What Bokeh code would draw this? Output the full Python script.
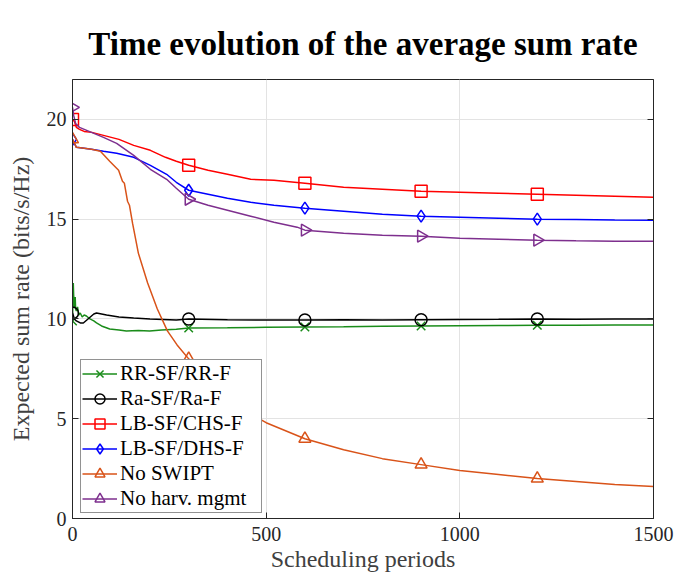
import numpy as np
from bokeh.plotting import figure
from bokeh.models import LinearAxis, Legend, LegendItem, Range1d, FixedTicker
from bokeh.embed import file_html
from bokeh.resources import INLINE

title_text = "Time evolution of the average sum rate"
x_label = "Scheduling periods"
y_label = "Expected sum rate (bits/s/Hz)"
x_ticks = [0, 500, 1000, 1500]
y_ticks = [0, 5, 10, 15, 20]
marker_x = [0, 300, 600, 900, 1200]

# RR-SF/RR-F
rr_x = [0, 2, 3, 5, 7, 8, 10, 13, 16, 20, 25, 30, 36, 45, 55, 62, 75, 96, 120, 139, 170, 199, 230, 268, 300, 400, 500, 600, 700, 800, 900, 1000, 1100, 1200, 1300, 1400, 1500]
rr_y = [9.9, 11.8, 11.2, 10.6, 11.1, 10.5, 10.4, 10.6, 10.2, 10.3, 10.1, 10.2, 10.15, 10.0, 9.9, 9.8, 9.65, 9.5, 9.45, 9.4, 9.42, 9.4, 9.45, 9.48, 9.55, 9.56, 9.58, 9.6, 9.61, 9.63, 9.65, 9.66, 9.67, 9.68, 9.69, 9.7, 9.7]
# Ra-SF/Ra-F
ra_x = [0, 5, 10, 20, 28, 40, 55, 62, 75, 88, 120, 158, 200, 268, 300, 400, 500, 600, 700, 800, 900, 1000, 1100, 1200, 1300, 1400, 1500]
ra_y = [10.3, 10.0, 9.9, 9.8, 9.8, 10.0, 10.25, 10.3, 10.25, 10.2, 10.1, 10.05, 10.0, 9.95, 10.0, 9.96, 9.95, 9.95, 9.96, 9.95, 9.96, 9.97, 9.98, 10.0, 9.99, 10.0, 10.0]
# LB-SF/CHS-F
chs_x = [0, 5, 10, 18, 30, 50, 80, 120, 158, 201, 240, 268, 300, 350, 400, 460, 520, 600, 700, 800, 900, 1000, 1100, 1200, 1300, 1400, 1500]
chs_y = [20.0, 19.9, 19.6, 19.5, 19.4, 19.35, 19.2, 19.0, 18.7, 18.45, 18.1, 17.9, 17.7, 17.45, 17.25, 17.0, 16.95, 16.8, 16.6, 16.5, 16.4, 16.35, 16.3, 16.25, 16.2, 16.15, 16.1]
# LB-SF/DHS-F
dhs_x = [0, 5, 10, 30, 49, 80, 114, 158, 201, 243, 268, 300, 350, 400, 460, 520, 600, 700, 800, 900, 1000, 1100, 1200, 1300, 1400, 1500]
dhs_y = [19.0, 18.8, 18.6, 18.55, 18.5, 18.4, 18.3, 18.1, 17.7, 17.25, 16.85, 16.45, 16.25, 16.05, 15.85, 15.7, 15.55, 15.4, 15.25, 15.15, 15.1, 15.05, 15.0, 14.98, 14.96, 14.95]
# No SWIPT
ns_x = [0, 5, 10, 30, 49, 72, 96, 119, 129, 134, 142, 147, 155, 170, 194, 219, 245, 270, 300, 350, 400, 450, 500, 600, 700, 800, 900, 1000, 1100, 1200, 1300, 1400, 1500]
ns_y = [19.0, 18.8, 18.6, 18.55, 18.5, 18.4, 17.9, 17.45, 16.9, 16.8, 15.9, 15.7, 14.8, 13.3, 11.8, 10.5, 9.4, 8.7, 8.0, 6.9, 6.0, 5.35, 4.8, 4.0, 3.45, 3.0, 2.7, 2.4, 2.2, 2.0, 1.85, 1.7, 1.6]
# No harv. mgmt
nh_x = [0, 3, 8, 18, 49, 80, 114, 158, 201, 243, 268, 300, 350, 400, 460, 520, 580, 600, 700, 800, 900, 1000, 1100, 1200, 1300, 1400, 1500]
nh_y = [20.6, 20.2, 19.8, 19.6, 19.35, 19.1, 18.8, 18.2, 17.5, 17.0, 16.55, 16.0, 15.7, 15.45, 15.15, 14.85, 14.6, 14.45, 14.3, 14.2, 14.15, 14.05, 14.0, 13.95, 13.92, 13.9, 13.9]

series = [
    ("RR-SF/RR-F", rr_x, rr_y, "#1a8c1a", "x", 0.0),
    ("Ra-SF/Ra-F", ra_x, ra_y, "#000000", "circle", 0.0),
    ("LB-SF/CHS-F", chs_x, chs_y, "#ff0000", "square", 0.0),
    ("LB-SF/DHS-F", dhs_x, dhs_y, "#0000ff", "diamond", 0.0),
    ("No SWIPT", ns_x, ns_y, "#D95319", "triangle", 0.0),
    ("No harv. mgmt", nh_x, nh_y, "#7E2F8E", "triangle", -np.pi / 2),
]

AX = "#262626"
SERIF = "Liberation Serif"

p = figure(width=676, height=578, x_range=Range1d(0, 1500), y_range=Range1d(0, 22),
           output_backend="svg", toolbar_location=None,
           min_border_left=72, min_border_right=23, min_border_top=79, min_border_bottom=60,
           x_axis_label=x_label, y_axis_label=y_label)

p.title.text = title_text
p.title.text_font = SERIF
p.title.text_font_style = "bold"
p.title.text_font_size = "33px"
p.title.align = "center"
p.title.offset = -4
p.title.text_color = "#000000"
p.title.standoff = 36
p.title.text_line_height = 0.4

p.outline_line_color = AX
p.outline_line_width = 1
p.outline_line_alpha = 1

for ax in [p.xaxis[0], p.yaxis[0]]:
    ax.axis_line_color = AX
    ax.major_tick_line_color = AX
    ax.major_tick_in = 6
    ax.major_tick_out = 0
    ax.minor_tick_line_color = None
    ax.major_label_text_font = SERIF
    ax.major_label_text_font_size = "20px"
    ax.major_label_text_color = AX
    ax.axis_label_text_font = SERIF
    ax.axis_label_text_font_size = "24px"
    ax.axis_label_text_font_style = "normal"
    ax.axis_label_text_color = "#404040"
p.xaxis[0].ticker = FixedTicker(ticks=x_ticks)
p.yaxis[0].ticker = FixedTicker(ticks=y_ticks)
p.xaxis[0].major_label_standoff = 8
p.yaxis[0].major_label_standoff = 6
p.xaxis[0].axis_label_standoff = 2
p.yaxis[0].axis_label_standoff = 10

a = LinearAxis(ticker=FixedTicker(ticks=y_ticks))
a.axis_line_color = AX
a.major_tick_line_color = AX
a.major_tick_in = 6
a.major_tick_out = 0
a.minor_tick_line_color = None
a.major_label_text_font_size = "0px"
a.major_label_standoff = 0
p.add_layout(a, "right")

p.xgrid.ticker = FixedTicker(ticks=x_ticks)
p.ygrid.ticker = FixedTicker(ticks=y_ticks)
p.grid.grid_line_color = "#e3e3e3"
p.grid.grid_line_width = 1

items = []
for name, xs, ys, col, mk, ang in series:
    r_line = p.line(xs, ys, line_color=col, line_width=1.5)
    my = list(np.interp(marker_x, xs, ys))
    r_mk = p.scatter(marker_x, my, marker=mk, size=12, angle=ang, line_color=col,
                     line_width=1.5, fill_color=None)
    items.append(LegendItem(label=name, renderers=[r_line, r_mk]))

legend = Legend(items=items, location=(8, 5))
legend.label_text_font = SERIF
legend.label_text_font_size = "21px"
legend.label_text_color = "#000000"
legend.border_line_color = AX
legend.border_line_width = 1
legend.background_fill_color = "white"
legend.background_fill_alpha = 1
legend.glyph_width = 35
legend.glyph_height = 25
legend.label_height = 20
legend.label_width = 140
legend.label_standoff = 3
legend.spacing = -2
legend.padding = 1
legend.margin = 0
p.add_layout(legend, "center")

open("out.html", "w").write(file_html(p, INLINE))
